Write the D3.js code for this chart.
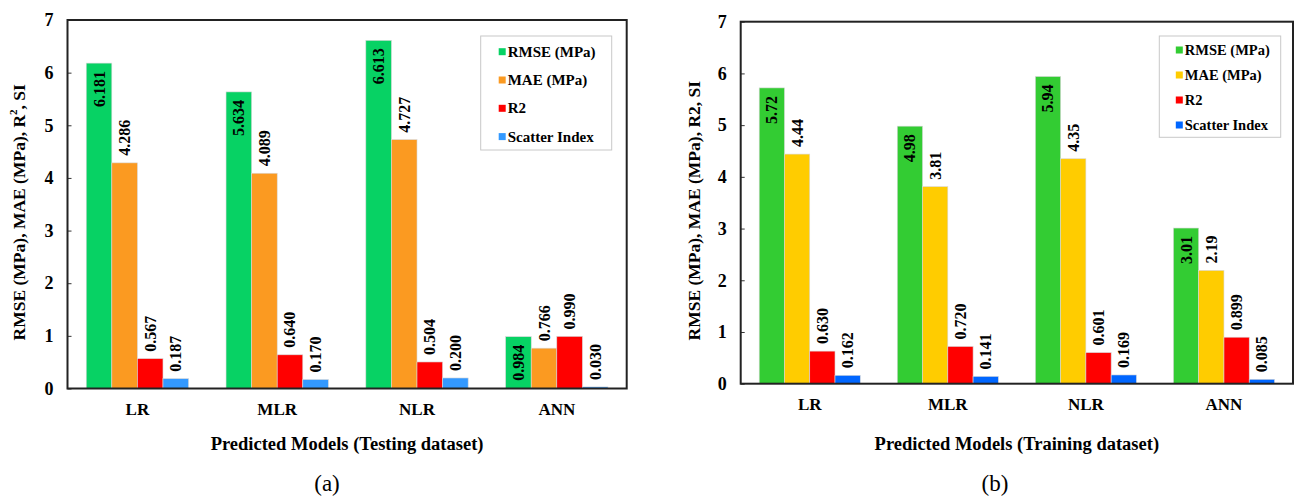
<!DOCTYPE html>
<html>
<head>
<meta charset="utf-8">
<script src="https://cdn.jsdelivr.net/npm/d3@7"></script>
<style>
  html, body { margin: 0; padding: 0; background: #fff; }
  svg { display: block; }
  text { font-family: "Liberation Serif", "Times New Roman", serif; }
</style>
</head>
<body>
<svg id="chart" width="1296" height="497"></svg>
<script>
// ---------- data ----------
const categories = ["LR", "MLR", "NLR", "ANN"];
const seriesNames = ["RMSE (MPa)", "MAE (MPa)", "R2", "Scatter Index"];
const yTicks = [0, 1, 2, 3, 4, 5, 6, 7];

const testRMSE = [6.181, 5.634, 6.613, 0.984];
const testMAE  = [4.286, 4.089, 4.727, 0.766];
const testR2   = [0.567, 0.640, 0.504, 0.990];
const testSI   = [0.187, 0.170, 0.200, 0.030];

const trainRMSE = [5.72, 4.98, 5.94, 3.01];
const trainMAE  = [4.44, 3.81, 4.35, 2.19];
const trainR2   = [0.630, 0.720, 0.601, 0.899];
const trainSI   = [0.162, 0.141, 0.169, 0.085];

const testFormats  = [".3f", ".3f", ".3f", ".3f"];
const trainFormats = [".2f", ".2f", ".3f", ".3f"];

const testColors  = ["#07d264", "#fb9a21", "#ff0000", "#3399ff"];
const trainColors = ["#33cc33", "#ffcc00", "#ff0000", "#0066ff"];

// ---------- drawing ----------
const svg = d3.select("#chart");

function drawPanel(cfg) {
  const g = svg.append("g");
  const series = cfg.values;
  const x0 = d3.scaleBand().domain(categories)
    .range([cfg.left, cfg.right]).paddingInner(0.268).paddingOuter(0.134);
  const x1 = d3.scaleBand().domain(d3.range(series.length))
    .range([0, x0.bandwidth()]).padding(0);
  const y = d3.scaleLinear().domain([0, 7]).range([cfg.bottom, cfg.top]);

  // bars
  categories.forEach((cat, ci) => {
    series.forEach((vals, si) => {
      const v = vals[ci];
      const bx = x0(cat) + x1(si);
      g.append("rect")
        .attr("x", bx).attr("y", y(v))
        .attr("width", x1.bandwidth()).attr("height", cfg.bottom - y(v))
        .attr("fill", cfg.colors[si])
        .attr("stroke", "#d8d8d8").attr("stroke-width", 0.6);
      const cx = bx + x1.bandwidth() / 2;
      const txt = d3.format(cfg.formats[si])(v);
      const inside = si === 0;
      const ty = inside ? y(v) + 8 : y(v) - 7;
      g.append("text")
        .attr("transform", `translate(${cx + 5.5},${ty}) rotate(-90)`)
        .attr("text-anchor", inside ? "end" : "start")
        .attr("font-size", 16).attr("font-weight", "bold")
        .attr("fill", "#000")
        .text(txt);
    });
  });

  // y axis
  const yAxis = d3.axisLeft(y).tickValues(yTicks).tickSize(-4).tickPadding(14)
    .tickFormat(d3.format("d"));
  const ya = g.append("g").attr("transform", `translate(${cfg.left},0)`).call(yAxis);
  ya.select(".domain").remove();
  ya.selectAll("line").attr("stroke", "#333");
  ya.selectAll("text").attr("font-size", 18).attr("font-weight", "bold")
    .attr("font-family", "Liberation Serif, serif").attr("fill", "#000");

  // x axis labels
  const xAxis = d3.axisBottom(x0).tickSize(0).tickPadding(14);
  const xa = g.append("g").attr("transform", `translate(0,${cfg.bottom})`).call(xAxis);
  xa.select(".domain").remove();
  xa.selectAll("text").attr("font-size", 17).attr("font-weight", "bold")
    .attr("font-family", "Liberation Serif, serif").attr("fill", "#000");

  // frame
  g.append("rect")
    .attr("x", cfg.left).attr("y", cfg.top)
    .attr("width", cfg.right - cfg.left).attr("height", cfg.bottom - cfg.top)
    .attr("fill", "none").attr("stroke", "#222").attr("stroke-width", 2);

  // y title
  const yt = g.append("text")
    .attr("transform", `translate(${cfg.yTitleX},${(cfg.top + cfg.bottom) / 2 + 8}) rotate(-90)`)
    .attr("text-anchor", "middle").attr("dominant-baseline", "central")
    .attr("font-size", 17.5).attr("font-weight", "bold");
  yt.append("tspan").text("RMSE (MPa), MAE (MPa), R");
  if (cfg.superscript) {
    yt.append("tspan").attr("baseline-shift", "super").attr("font-size", 11).text("2");
  } else {
    yt.append("tspan").text("2");
  }
  yt.append("tspan").text(", SI");

  // x title
  g.append("text")
    .attr("x", (cfg.left + cfg.right) / 2).attr("y", 450)
    .attr("text-anchor", "middle")
    .attr("font-size", 18.5).attr("font-weight", "bold")
    .text(cfg.xTitle);

  // panel letter
  g.append("text")
    .attr("x", cfg.letterX).attr("y", 491)
    .attr("text-anchor", "middle")
    .attr("font-size", 23)
    .text(cfg.letter);

  // legend
  const L = cfg.legend;
  g.append("rect")
    .attr("x", L.x).attr("y", L.y).attr("width", L.w).attr("height", L.h)
    .attr("fill", "#fff").attr("stroke", "#c8c8c8").attr("stroke-width", 1);
  seriesNames.forEach((name, i) => {
    const ry = L.y + L.first + i * L.step;
    g.append("rect")
      .attr("x", L.x + L.sw).attr("y", ry - 3.5)
      .attr("width", 7).attr("height", 7)
      .attr("fill", cfg.colors[i]);
    g.append("text")
      .attr("x", L.x + L.sw + 9).attr("y", ry)
      .attr("dominant-baseline", "central")
      .attr("font-size", L.fs).attr("font-weight", "bold")
      .text(name);
  });
}

drawPanel({
  values: [testRMSE, testMAE, testR2, testSI],
  formats: testFormats, colors: testColors,
  left: 67.5, right: 626.7, top: 20, bottom: 388.5,
  yTitleX: 19, superscript: true,
  xTitle: "Predicted Models (Testing dataset)",
  letter: "(a)", letterX: 327,
  legend: { x: 480.7, y: 36, w: 131, h: 114, first: 15.7, step: 28.3, sw: 18, fs: 15 }
});

drawPanel({
  values: [trainRMSE, trainMAE, trainR2, trainSI],
  formats: trainFormats, colors: trainColors,
  left: 740.7, right: 1293, top: 21.7, bottom: 383.7,
  yTitleX: 694, superscript: false,
  xTitle: "Predicted Models (Training dataset)",
  letter: "(b)", letterX: 995,
  legend: { x: 1159.3, y: 36, w: 121.4, h: 101.3, first: 14, step: 25, sw: 16.5, fs: 14.5 }
});
</script>
</body>
</html>
